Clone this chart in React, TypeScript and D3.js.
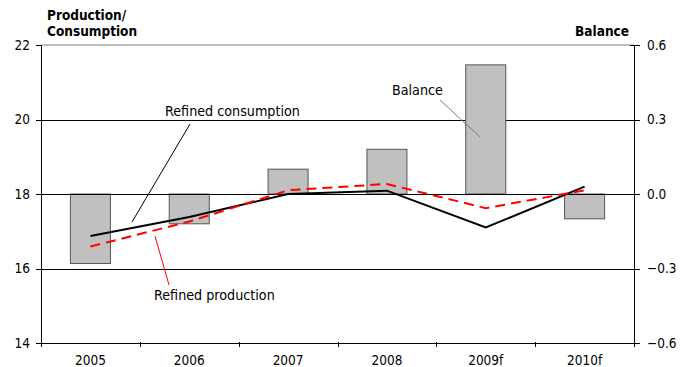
import React from "react";
import * as d3 from "d3";

const categories = ["2005", "2006", "2007", "2008", "2009f", "2010f"];
const consumption = [16.87, 17.38, 18.0, 18.09, 17.1, 18.2];
const production = [16.59, 17.26, 18.1, 18.27, 17.62, 18.1];
const balance = [-0.28, -0.12, 0.1, 0.18, 0.52, -0.1];
const leftTicks = [14, 16, 18, 20, 22];
const rightTicks = [-0.6, -0.3, 0.0, 0.3, 0.6];

const W = 681, H = 367;
const L = 41, R = 634, T = 45, B = 343;
const FONT = "'DejaVu Sans Condensed', 'DejaVu Sans', sans-serif";

export default function App() {
  const x = d3.scaleBand<string>().domain(categories).range([L, R]).padding(0);
  const yL = d3.scaleLinear().domain([14, 22]).range([B, T]);
  const yR = d3.scaleLinear().domain([-0.6, 0.6]).range([B, T]);
  const bw = x.bandwidth() * 0.405;
  const cx = (c: string) => (x(c) as number) + x.bandwidth() / 2;

  const line = d3.line<number>().x((_, i) => cx(categories[i])).y((d) => yL(d));

  const boundaries = categories.map((c) => x(c) as number).concat([R]);

  return (
    <svg width={W} height={H} style={{ position: "absolute", left: 0, top: 0, background: "#fff" }} fontFamily={FONT}>
      <line x1={L} x2={R} y1={T} y2={T} stroke="#808080" strokeWidth={1} />
      {leftTicks.filter((t) => t > 14 && t < 22).map((t) => (
        <line key={t} x1={L} x2={R} y1={Math.round(yL(t)) + 0.5} y2={Math.round(yL(t)) + 0.5} stroke="#000" strokeWidth={1} />
      ))}
      {balance.map((v, i) => {
        const c = categories[i];
        const y0 = yR(0), y1 = yR(v);
        return (
          <rect key={c} x={cx(c) - bw / 2} y={Math.min(y0, y1)} width={bw} height={Math.abs(y1 - y0)}
            fill="#c0c0c0" stroke="#555" strokeWidth={1} />
        );
      })}
      <line x1={L} x2={R} y1={Math.round(yR(0)) + 0.5} y2={Math.round(yR(0)) + 0.5} stroke="#000" strokeWidth={1} />
      <path d={line(consumption) as string} fill="none" stroke="#000" strokeWidth={2} />
      <path d={line(production) as string} fill="none" stroke="#ff0000" strokeWidth={2} strokeDasharray="10,6" />
      <line x1={L + 0.5} x2={L + 0.5} y1={T} y2={B} stroke="#000" strokeWidth={1} />
      <line x1={R + 0.5} x2={R + 0.5} y1={T} y2={B} stroke="#000" strokeWidth={1} />
      <line x1={L} x2={R} y1={B + 0.5} y2={B + 0.5} stroke="#000" strokeWidth={1} />
      {leftTicks.map((t) => (
        <g key={"l" + t}>
          <line x1={L - 5} x2={L} y1={Math.round(yL(t)) + 0.5} y2={Math.round(yL(t)) + 0.5} stroke="#000" />
          <text x={L - 11} y={yL(t)} dy="0.35em" textAnchor="end" fontSize={13.5}>{t}</text>
        </g>
      ))}
      {rightTicks.map((t) => (
        <g key={"r" + t}>
          <line x1={R - 4} x2={R + 6} y1={Math.round(yR(t)) + 0.5} y2={Math.round(yR(t)) + 0.5} stroke="#000" />
          <text x={R + 13} y={yR(t)} dy="0.35em" textAnchor="start" fontSize={13.5}>{d3.format(".1f")(t)}</text>
        </g>
      ))}
      {boundaries.map((bx, i) => (
        <line key={"b" + i} x1={Math.round(bx) + 0.5} x2={Math.round(bx) + 0.5} y1={B - 1} y2={B + 4} stroke="#000" />
      ))}
      {categories.map((c) => (
        <text key={"x" + c} x={cx(c)} y={360} dy="0.35em" textAnchor="middle" fontSize={13.5}>{c}</text>
      ))}
      <text x={47} y={15} dy="0.35em" fontSize={13.5} fontWeight="bold">Production/</text>
      <text x={47} y={31.5} dy="0.35em" fontSize={13.5} fontWeight="bold">Consumption</text>
      <text x={629} y={31.5} dy="0.35em" fontSize={13.5} fontWeight="bold" textAnchor="end">Balance</text>
      <line x1={190} y1={124} x2={132} y2={222} stroke="#000" strokeWidth={1} />
      <text x={165} y={111} dy="0.35em" fontSize={14.2}>Refined consumption</text>
      <line x1={440} y1={100} x2={480} y2={137} stroke="#808080" strokeWidth={1} />
      <text x={392} y={90} dy="0.35em" fontSize={14.2}>Balance</text>
      <line x1={155} y1={236} x2={169} y2={285} stroke="#ff0000" strokeWidth={1} />
      <text x={154} y={295} dy="0.35em" fontSize={14.2}>Refined production</text>
    </svg>
  );
}
